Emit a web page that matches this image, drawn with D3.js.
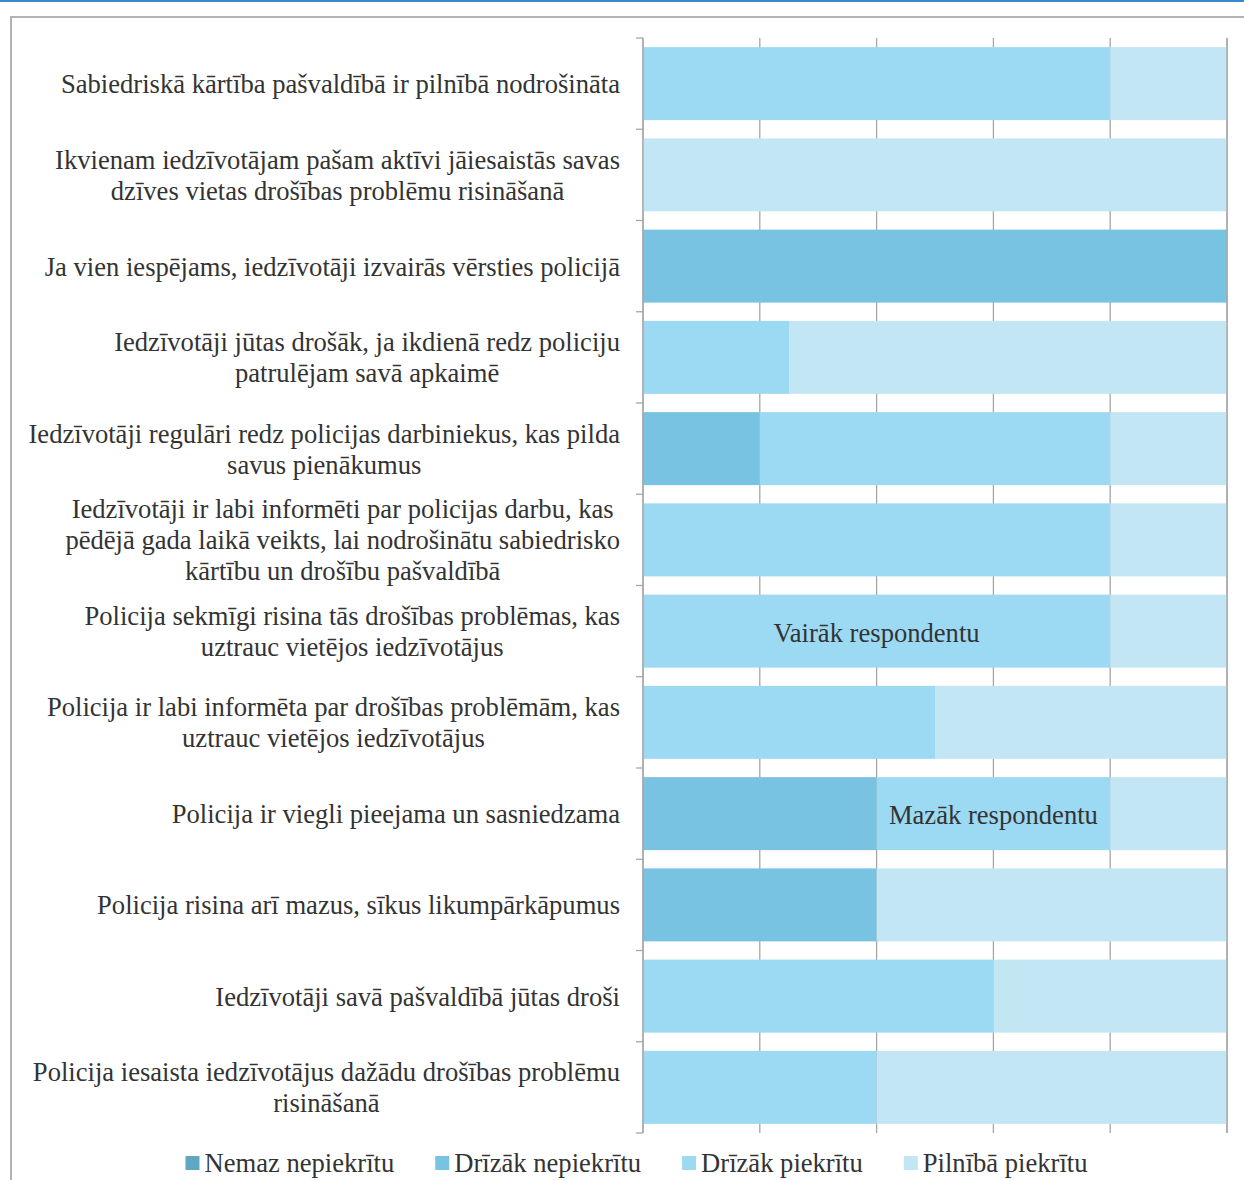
<!DOCTYPE html>
<html>
<head>
<meta charset="utf-8">
<script src="https://cdn.jsdelivr.net/npm/d3@7/dist/d3.min.js"></script>
<style>
  html, body { margin: 0; padding: 0; background: #fff; }
  svg { display: block; }
</style>
</head>
<body>
<svg id="chart" width="1244" height="1180"></svg>
<script>
// ---- data ----
const categories = [
  "Sabiedriskā kārtība pašvaldībā ir pilnībā nodrošināta",
  "Ikvienam iedzīvotājam pašam aktīvi jāiesaistās savas\ndzīves vietas drošības problēmu risināšanā",
  "Ja vien iespējams, iedzīvotāji izvairās vērsties policijā",
  "Iedzīvotāji jūtas drošāk, ja ikdienā redz policiju\npatrulējam savā apkaimē",
  "Iedzīvotāji regulāri redz policijas darbiniekus, kas pilda\nsavus pienākumus",
  "Iedzīvotāji ir labi informēti par policijas darbu, kas\npēdējā gada laikā veikts, lai nodrošinātu sabiedrisko\nkārtību un drošību pašvaldībā",
  "Policija sekmīgi risina tās drošības problēmas, kas\nuztrauc vietējos iedzīvotājus",
  "Policija ir labi informēta par drošības problēmām, kas\nuztrauc vietējos iedzīvotājus",
  "Policija ir viegli pieejama un sasniedzama",
  "Policija risina arī mazus, sīkus likumpārkāpumus",
  "Iedzīvotāji savā pašvaldībā jūtas droši",
  "Policija iesaista iedzīvotājus dažādu drošības problēmu\nrisināšanā"
];
const seriesNames = ["Nemaz nepiekrītu", "Drīzāk nepiekrītu", "Drīzāk piekrītu", "Pilnībā piekrītu"];
const nemazNepiekritu   = [0, 0, 0, 0,    0, 0, 0, 0,   0, 0, 0, 0];
const drizakNepiekritu  = [0, 0, 5, 0,    1, 0, 0, 0,   2, 2, 0, 0];
const drizakPiekritu    = [4, 0, 0, 1.25, 3, 4, 4, 2.5, 2, 0, 3, 2];
const pilnibaPiekritu   = [1, 5, 0, 3.75, 1, 1, 1, 2.5, 1, 3, 2, 3];
const xTicks = [0, 1, 2, 3, 4, 5];
const annotations = [
  { text: "Vairāk respondentu", category: 6, x: 2 },
  { text: "Mazāk respondentu", category: 8, x: 3 }
];
const colors = ["#5fa8c2", "#79c3e2", "#9cd9f3", "#c3e6f5"];
const FONT = "'Liberation Serif', 'Tinos', 'DejaVu Serif', serif";

// ---- build ----
const seriesValues = [nemazNepiekritu, drizakNepiekritu, drizakPiekritu, pilnibaPiekritu];
const rows = categories.map((c, i) => {
  const r = { cat: c };
  seriesNames.forEach((s, j) => r[s] = seriesValues[j][i]);
  return r;
});
const stack = d3.stack().keys(seriesNames)(rows);

const svg = d3.select("#chart");

svg.append("rect").attr("x", 0).attr("y", 0).attr("width", 1244).attr("height", 2).attr("fill", "#3a87cb");
svg.append("path").attr("d", "M11,1180 V17 H1244").attr("fill", "none").attr("stroke", "#b3b3b3").attr("stroke-width", 2);

const x = d3.scaleLinear().domain([0, 5]).range([643, 1227]);
const y = d3.scaleBand().domain(categories).range([38, 1133]).paddingInner(0.2).paddingOuter(0.1);
const step = y.step();
const top0 = 38, bottom0 = 1133;

svg.append("g").selectAll("line").data(xTicks).join("line")
  .attr("x1", d => x(d)).attr("x2", d => x(d))
  .attr("y1", top0).attr("y2", bottom0)
  .attr("stroke", "#a6a6a6").attr("stroke-width", 1.3);

svg.append("g").selectAll("g").data(stack).join("g")
  .attr("fill", (d, i) => colors[i])
  .selectAll("rect").data(d => d).join("rect")
  .attr("x", d => x(d[0]))
  .attr("width", d => x(d[1]) - x(d[0]))
  .attr("y", d => y(d.data.cat))
  .attr("height", y.bandwidth());

svg.append("line").attr("x1", x(0)).attr("x2", x(0)).attr("y1", top0).attr("y2", bottom0)
  .attr("stroke", "#a6a6a6").attr("stroke-width", 1.3);
svg.append("line").attr("x1", x(5)).attr("x2", x(5)).attr("y1", top0).attr("y2", bottom0)
  .attr("stroke", "#a6a6a6").attr("stroke-width", 1.3);
svg.append("g").selectAll("line").data(d3.range(categories.length + 1)).join("line")
  .attr("x1", x(0) - 7).attr("x2", x(0))
  .attr("y1", i => top0 + i * step).attr("y2", i => top0 + i * step)
  .attr("stroke", "#a6a6a6").attr("stroke-width", 1.3);

const FS = 26.6;
const lineH = 31;
const labelRight = 620;
const labels = svg.append("g").selectAll("text").data(categories).join("text")
  .attr("text-anchor", "middle")
  .attr("font-family", FONT).attr("fill", "#333")
  .attr("font-size", FS)
  .attr("dominant-baseline", "central")
  .attr("y", d => y(d) + y.bandwidth() / 2 + 0.5);
labels.each(function(d) {
  const lines = d.split("\n");
  const t = d3.select(this);
  const spans = lines.map((ln, k) => t.append("tspan")
      .attr("dy", k === 0 ? (-(lines.length - 1) / 2 * lineH) : lineH)
      .text(ln));
  const maxW = d3.max(spans, s => s.node().getComputedTextLength());
  spans.forEach(s => s.attr("x", labelRight - maxW / 2));
});

svg.append("g").selectAll("text").data(annotations).join("text")
  .attr("text-anchor", "middle")
  .attr("dominant-baseline", "central")
  .attr("font-family", FONT).attr("fill", "#333")
  .attr("font-size", FS)
  .attr("x", d => x(d.x))
  .attr("y", d => y(categories[d.category]) + y.bandwidth() / 2 + 1.5)
  .text(d => d.text);

const legend = svg.append("g");
const items = legend.selectAll("g").data(seriesNames).join("g");
items.append("rect").attr("width", 14).attr("height", 14).attr("y", -7).attr("fill", (d, i) => colors[i]);
items.append("text").attr("x", 19).attr("dominant-baseline", "central")
  .attr("font-family", FONT).attr("fill", "#333").attr("font-size", FS).text(d => d);
const widths = [];
items.each(function() { widths.push(this.getBBox().width); });
const gap = 41;
const total = d3.sum(widths) + gap * (widths.length - 1);
const start = 636.5 - total / 2;
items.attr("transform", (d, i) => `translate(${start + d3.sum(widths.slice(0, i)) + gap * i},1163)`);
</script>
</body>
</html>
